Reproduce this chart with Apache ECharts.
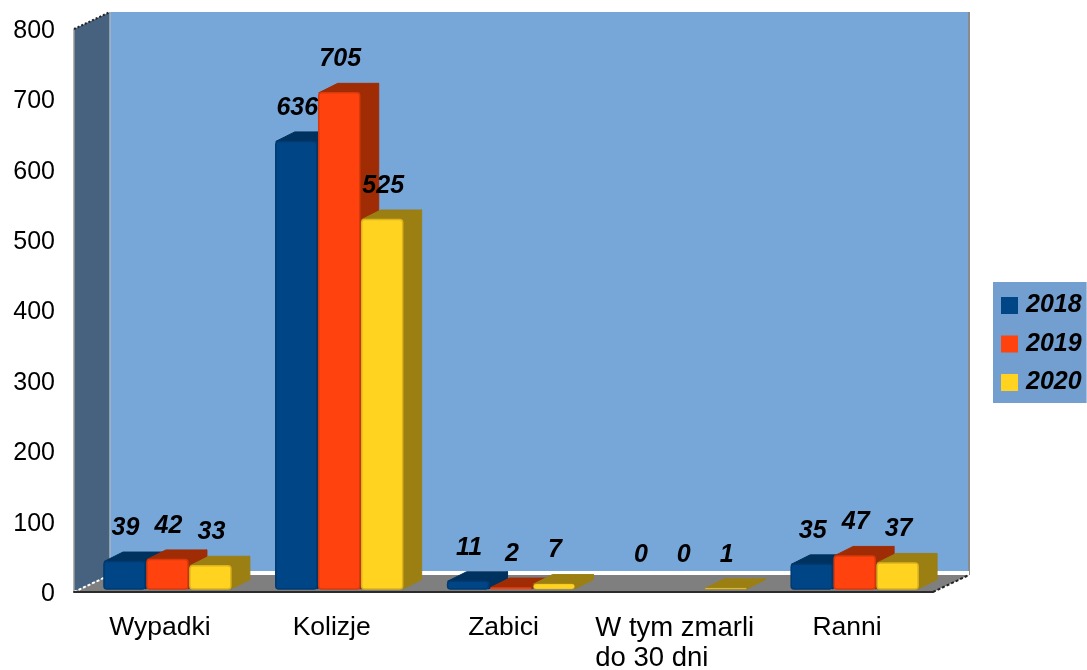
<!DOCTYPE html>
<html><head><meta charset="utf-8">
<style>html,body{margin:0;padding:0;background:#fff}#c{width:1087px;height:670px}</style>
<script src="https://cdn.jsdelivr.net/npm/echarts@6/dist/echarts.min.js"></script>
</head><body><div id="c"></div>
<script>
const categories = ['Wypadki', 'Kolizje', 'Zabici', 'W tym zmarli\ndo 30 dni', 'Ranni'];
const years = ['2018', '2019', '2020'];
const values2018 = [39, 636, 11, 0, 35];
const values2019 = [42, 705, 2, 0, 47];
const values2020 = [33, 525, 7, 1, 37];
const colors = ['#004586', '#ff420e', '#ffd320'];
const sideColors = ['#00325f', '#a02c05', '#9b7f12'];
const edgeColors = ['#003a70', '#d93a0c', '#dcb41c'];
const FONT = '"Liberation Sans", Arial, sans-serif';
const DX = 19, DY = 9.5, STEP_DIV = 4, FRONT_W = 41, GROUP_SHIFT = 8.5;

function barRenderer(si) {
  return function (params, api) {
    const idx = api.value(0), v = api.value(1);
    const band = api.size([1, 0])[0];
    const step = band / STEP_DIV;
    const c = api.coord([idx, v]), b = api.coord([idx, 0]);
    const x = c[0] + GROUP_SHIFT + (si - 1.5) * step;
    const top = c[1], base = b[1], w = FRONT_W;
    const ch = [];
    if (v > 0) {
      ch.push({type: 'polygon', shape: {points: [[x + w, top], [x + w + DX, top - DY], [x + w + DX, base - DY], [x + w, base]]},
        style: {fill: sideColors[si], stroke: sideColors[si], lineWidth: 1, lineJoin: 'round'}});
      ch.push({type: 'polygon', shape: {points: [[x, top], [x + DX, top - DY], [x + w + DX, top - DY], [x + w, top]]},
        style: {fill: sideColors[si], stroke: sideColors[si], lineWidth: 1, lineJoin: 'round'}});
      ch.push({type: 'rect', shape: {x: x, y: top, width: w, height: base - top, r: Math.min(3, (base - top) / 2)},
        style: {fill: colors[si], stroke: edgeColors[si], lineWidth: base - top > 6 ? 1.5 : 0.5}});
    }
    ch.push({type: 'text', style: {x: x + w / 2 + 1, y: top - 33.5, text: String(v), align: 'center', verticalAlign: 'middle',
      font: 'italic bold 25px ' + FONT, fill: '#000'}});
    return {type: 'group', children: ch};
  };
}
const allSeries = [values2018, values2019, values2020];
const series = allSeries.map((vals, si) => ({
  name: years[si], type: 'custom', xAxisIndex: 1, yAxisIndex: 1, clip: false,
  itemStyle: {color: colors[si]}, z: 5 + si,
  data: vals.map((v, i) => [i, v]),
  renderItem: barRenderer(si)
}));

const chart = echarts.init(document.getElementById('c'));
chart.setOption({
  animation: false,
  backgroundColor: '#fff',
  tooltip: {show: false},
  grid: [
    {left: 74, top: 29, width: 859, height: 563, outerBoundsMode: 'none'},
    {left: 74, top: 26, width: 859, height: 563, outerBoundsMode: 'none'}
  ],
  xAxis: [
    {type: 'category', gridIndex: 0, data: categories, axisTick: {show: false},
     axisLine: {show: true, lineStyle: {color: '#2b2b2b', width: 2}},
     axisLabel: {
       margin: 21, interval: 0, color: '#000',
       formatter: v => v.indexOf('\n') >= 0
         ? v.split('\n').map(t => '{b|' + t + '}').join('\n')
         : '{a|' + v + '}',
       rich: {
         a: {fontFamily: FONT, fontSize: 26.5, lineHeight: 30, color: '#000'},
         b: {fontFamily: FONT, fontSize: 27.5, lineHeight: 30, color: '#000', width: 160, align: 'left'}
       }
     }},
    {type: 'category', gridIndex: 1, data: categories, show: false}
  ],
  yAxis: [
    {type: 'value', gridIndex: 0, min: 0, max: 800, interval: 100, axisLine: {show: false}, axisTick: {show: false},
     splitLine: {show: false}, axisLabel: {margin: 19, color: '#000', fontFamily: FONT, fontSize: 25, verticalAlign: 'top', lineHeight: 4}},
    {type: 'value', gridIndex: 1, min: 0, max: 800, interval: 100, show: false, splitLine: {show: false}}
  ],
  legend: {
    data: years, orient: 'vertical', left: 993, top: 282, backgroundColor: '#729fcf', padding: [11, 5, 8, 8],
    itemWidth: 17, itemHeight: 17, itemGap: 13.5, icon: 'rect', align: 'left',
    textStyle: {fontFamily: FONT, fontSize: 25, fontStyle: 'italic', fontWeight: 'bold', color: '#000', padding: [4, 0, 0, 3], lineHeight: 21}
  },
  graphic: [
    {type: 'rect', z: -5, silent: true, shape: {x: 110, y: 12, width: 859, height: 563}, style: {fill: '#77a6d9'}},
    {type: 'line', z: -4, silent: true, shape: {x1: 969, y1: 12, x2: 969, y2: 575}, style: {stroke: '#8a8a8a', lineWidth: 2}},
    {type: 'line', z: -4, silent: true, shape: {x1: 110, y1: 573, x2: 969, y2: 573}, style: {stroke: '#fff', lineWidth: 4}},
    {type: 'polygon', z: -4, silent: true, shape: {points: [[74, 29], [110, 12], [110, 575], [74, 592]]}, style: {fill: '#46627f'}},
    {type: 'line', z: -3, silent: true, shape: {x1: 110, y1: 12, x2: 110, y2: 575}, style: {stroke: '#a9b4c0', lineWidth: 1.5}},
    {type: 'line', z: -3, silent: true, shape: {x1: 74, y1: 29, x2: 74, y2: 592}, style: {stroke: '#9a9a9a', lineWidth: 1.5}},
    {type: 'polygon', z: -4, silent: true, shape: {points: [[74, 592], [110, 575], [969, 575], [933, 592]]}, style: {fill: '#7f7f7f'}},
    {type: 'line', z: -3, silent: true, shape: {x1: 74, y1: 29, x2: 110, y2: 12}, style: {stroke: '#222', lineWidth: 2, lineDash: [2, 2]}},
    {type: 'line', z: -3, silent: true, shape: {x1: 74, y1: 592, x2: 110, y2: 575}, style: {stroke: '#fff', lineWidth: 2, lineDash: [3, 2]}},
    {type: 'line', z: -3, silent: true, shape: {x1: 933, y1: 592, x2: 969, y2: 575}, style: {stroke: '#222', lineWidth: 2, lineDash: [3, 2]}}
  ],
  series: series
});
</script></body></html>
